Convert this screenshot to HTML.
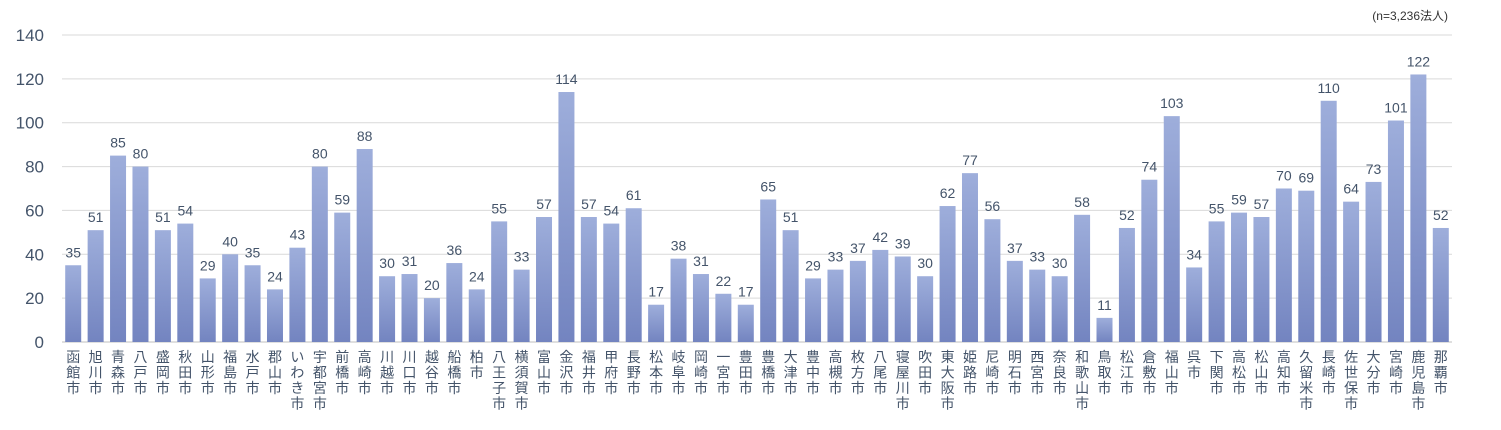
<!DOCTYPE html>
<html><head><meta charset="utf-8"><style>
body{margin:0;background:#fff;}
svg text{font-family:"Liberation Sans","Noto Sans CJK JP",sans-serif;}
</style></head><body>
<svg id="chart" width="1501" height="425" xmlns="http://www.w3.org/2000/svg">
<defs><linearGradient id="g" x1="0" y1="0" x2="0" y2="1"><stop offset="0" stop-color="#9eaedb"/><stop offset="1" stop-color="#7384c0"/></linearGradient></defs>
<text x="1448" y="20" font-size="12" fill="#333" text-anchor="end">(n=3,236法人)</text>
<g id="grid"></g><g id="bars"></g><g id="labels"></g>
</svg>
<script>
const categories=["函館市","旭川市","青森市","八戸市","盛岡市","秋田市","山形市","福島市","水戸市","郡山市","いわき市","宇都宮市","前橋市","高崎市","川越市","川口市","越谷市","船橋市","柏市","八王子市","横須賀市","富山市","金沢市","福井市","甲府市","長野市","松本市","岐阜市","岡崎市","一宮市","豊田市","豊橋市","大津市","豊中市","高槻市","枚方市","八尾市","寝屋川市","吹田市","東大阪市","姫路市","尼崎市","明石市","西宮市","奈良市","和歌山市","鳥取市","松江市","倉敷市","福山市","呉市","下関市","高松市","松山市","高知市","久留米市","長崎市","佐世保市","大分市","宮崎市","鹿児島市","那覇市"];
const values=[35,51,85,80,51,54,29,40,35,24,43,80,59,88,30,31,20,36,24,55,33,57,114,57,54,61,17,38,31,22,17,65,51,29,33,37,42,39,30,62,77,56,37,33,30,58,11,52,74,103,34,55,59,57,70,69,110,64,73,101,122,52];
const yTicks=[0,20,40,60,80,100,120,140];
const NS="http://www.w3.org/2000/svg";
const x0=62,x1=1452,yBase=342,yTop=35,yMax=140;
const y=v=>yBase-(v/yMax)*(yBase-yTop);
const step=(x1-x0)/categories.length;
const xc=i=>x0+step*(i+0.5);
function mk(t,a,p){const e=document.createElementNS(NS,t);for(const k in a)e.setAttribute(k,a[k]);p.appendChild(e);return e;}
const grid=document.getElementById('grid'),bars=document.getElementById('bars'),labels=document.getElementById('labels');
yTicks.forEach(t=>{
 const l=mk('line',{x1:x0,x2:x1,y1:y(t),y2:y(t),stroke:t===0?'#bfbfbf':'#d9d9d9','stroke-width':1},grid);
 
 
 const tx=mk('text',{x:44,y:y(t)+6,'font-size':17,fill:'#44546a','text-anchor':'end'},grid);
 tx.textContent=t;
 
 
});
categories.forEach((c,i)=>{
 const v=values[i],cx=xc(i),w=16;
 const r=mk('rect',{x:cx-w/2,y:y(v),width:w,height:yBase-y(v),fill:'url(#g)'},bars);
 
 
 const vl=mk('text',{x:cx,y:y(v)-8,'font-size':14,fill:'#44546a','text-anchor':'middle'},labels);
 vl.textContent=v;
 
 
 const cl=mk('text',{x:cx,y:362,'font-size':14,fill:'#44546a','text-anchor':'middle'},labels);
 
 
 [...c].forEach((ch,j)=>{const ts=mk('tspan',{x:cx,dy:j===0?0:15.5},cl);ts.textContent=ch;});
});
</script>
</body></html>
